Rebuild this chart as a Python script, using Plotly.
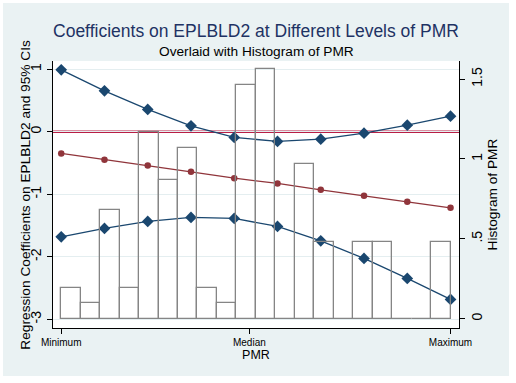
import plotly.graph_objects as go

# ---- data ----
pmr_levels = [0, 1, 2, 3, 4, 5, 6, 7, 8, 9]          # evaluation points (Minimum .. Maximum)
coef = [-0.346, -0.448, -0.538, -0.640, -0.741, -0.826, -0.928, -1.024, -1.120, -1.216]
ci_upper = [0.992, 0.656, 0.358, 0.096, -0.090, -0.154, -0.117, -0.021, 0.107, 0.251]
ci_lower = [-1.680, -1.546, -1.434, -1.370, -1.386, -1.514, -1.744, -2.026, -2.346, -2.682]
hist_density = [0.19, 0.10, 0.68, 0.19, 1.17, 0.87, 1.07, 0.19, 0.10, 1.46,
                1.56, 0.0, 0.97, 0.48, 0.0, 0.48, 0.48, 0.0, 0.0, 0.48]
x_tick_vals = [0, 4.35, 9]
x_tick_text = ["Minimum", "Median", "Maximum"]
y_tick_vals = [-3, -2, -1, 0, 1]
y_tick_text = ["-3", "-2", "-1", "0", "1"]
y2_tick_vals = [0, 0.5, 1, 1.5]
y2_tick_text = ["0", ".5", "1", "1.5"]

# histogram bins spanning min..max
n_bins = len(hist_density)
lo, hi = min(pmr_levels), max(pmr_levels)
bw = (hi - lo) / n_bins
bin_centers = [lo + bw * (i + 0.5) for i in range(n_bins)]

NAVY = "#1a476f"
MAROON = "#90353b"
FONT = "Arial, Liberation Sans, sans-serif"

fig = go.Figure()
fig.add_trace(go.Bar(
    x=bin_centers, y=hist_density, width=bw, yaxis="y2",
    marker=dict(color="rgba(0,0,0,0)", line=dict(color="#858585", width=1.3)),
    showlegend=False, hoverinfo="skip"))
fig.add_trace(go.Scatter(
    x=pmr_levels, y=ci_upper, mode="lines+markers",
    line=dict(color=NAVY, width=1.3),
    marker=dict(symbol="diamond", size=9, color=NAVY), showlegend=False))
fig.add_trace(go.Scatter(
    x=pmr_levels, y=ci_lower, mode="lines+markers",
    line=dict(color=NAVY, width=1.3),
    marker=dict(symbol="diamond", size=9, color=NAVY), showlegend=False))
fig.add_trace(go.Scatter(
    x=pmr_levels, y=coef, mode="lines+markers",
    line=dict(color=MAROON, width=1.3),
    marker=dict(symbol="circle", size=6.5, color=MAROON), showlegend=False))

fig.add_shape(type="line", xref="paper", x0=0, x1=1, yref="y", y0=0, y1=0,
              line=dict(color="#b81e45", width=2.4), layer="below")

fig.add_annotation(text="Overlaid with Histogram of PMR", xref="paper", yref="paper",
                   x=0.5, y=1 + 9 / 267, xanchor="center", yanchor="middle", showarrow=False,
                   font=dict(size=13.7, color="black", family=FONT))
fig.add_annotation(text="Regression Coefficients on EPLBLD2 and 95% CIs",
                   xref="paper", yref="paper", x=(22 - 50) / 408, y=0.5,
                   xanchor="center", yanchor="middle", textangle=-90, showarrow=False,
                   font=dict(size=13.7, color="black", family=FONT))

fig.update_layout(
    width=506, height=373,
    margin=dict(l=50, r=48, t=58, b=48),
    paper_bgcolor="#eaf2f3", plot_bgcolor="white",
    font=dict(family=FONT, color="black"),
    title=dict(text="Coefficients on EPLBLD2 at Different Levels of PMR",
               x=0.5, xanchor="center", y=1 - 27.5 / 373, yanchor="middle",
               font=dict(size=17.5, color="#1e3264", family=FONT)),
    xaxis=dict(range=[-0.19, 9.196], tickvals=x_tick_vals, ticktext=x_tick_text,
               ticks="outside", ticklen=5, tickcolor="black", tickfont=dict(size=10),
               showline=True, linecolor="black", linewidth=1, showgrid=False, zeroline=False,
               title=dict(text="PMR", font=dict(size=12.5), standoff=0)),
    yaxis=dict(range=[-3.139, 1.133], tickvals=y_tick_vals, ticktext=y_tick_text, tickangle=-90,
               ticks="outside", ticklen=5, tickcolor="black", tickfont=dict(size=14),
               showline=True, linecolor="black", linewidth=1,
               showgrid=True, gridcolor="#e4eef0", gridwidth=1, zeroline=False),
    yaxis2=dict(range=[-0.058, 1.613], overlaying="y", side="right",
                tickvals=y2_tick_vals, ticktext=y2_tick_text, tickangle=-90,
                ticks="outside", ticklen=5, tickcolor="black", tickfont=dict(size=14),
                showline=True, linecolor="black", linewidth=1, showgrid=False, zeroline=False,
                title=dict(text="Histogram of PMR", font=dict(size=13.7), standoff=3)),
    bargap=0,
)

fig.write_html("out.html", post_script="document.body.style.margin='3px';")
